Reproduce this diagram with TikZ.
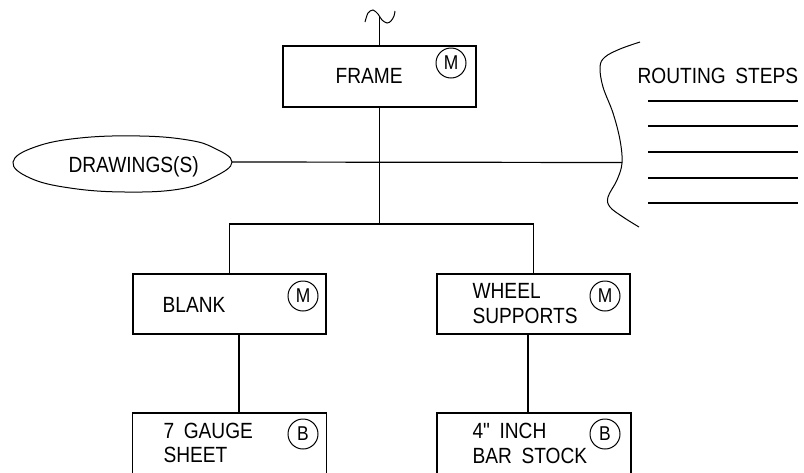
\documentclass[tikz,border=0pt]{standalone}
\usepackage{fontspec}
\newfontfamily\cad[FakeStretch=0.87,WordSpace=1.8]{Liberation Sans}
\begin{document}
\begin{tikzpicture}[x=1pt,y=-1pt,line width=1.2pt,
  box/.style={draw,rectangle,minimum width=193pt,inner sep=0pt},
  lbl/.style={font=\cad\fontsize{22}{26}\selectfont,inner sep=0pt,anchor=base west},
  badge/.style={draw,circle,minimum size=30pt,inner sep=0pt,line width=1pt,font=\cad\fontsize{20}{24}\selectfont},
  wavy/.style={line width=1pt}]
\useasboundingbox (0,0) rectangle (804,472);
\clip (0,0) rectangle (804,472);

% boxes
\node[box,minimum height=61pt] (frame) at (379.5,76.5) {};
\node[box,minimum height=60pt] (blank) at (229.5,304) {};
\node[box,minimum height=60pt] (wheel) at (533.5,304) {};
\node[box,minimum height=80pt,minimum width=194pt] (sheet) at (229.5,453) {};
\node[box,minimum height=80pt,minimum width=194pt] (bar) at (534,453) {};

% labels
\node[lbl] (framelbl) at (335,83) {FRAME};
\node[lbl] (blanklbl) at (162,312) {BLANK};
\node[lbl] (wheellbl1) at (472,298) {WHEEL};
\node[lbl] (wheellbl2) at (472,323) {SUPPORTS};
\node[lbl] (sheetlbl1) at (163,438) {7 GAUGE};
\node[lbl] (sheetlbl2) at (163,462) {SHEET};
\node[lbl] (barlbl1) at (472,438) {4" INCH};
\node[lbl] (barlbl2) at (472,463) {BAR STOCK};
\node[lbl] (routlbl) at (637,83) {ROUTING STEPS};
\node[lbl] (drwlbl) at (68,172) {DRAWINGS(S)};

% badges
\node[badge] (fm) at (451,63) {M};
\node[badge] (bm) at (303,296) {M};
\node[badge] (wm) at (605,296) {M};
\node[badge] (sb) at (303,434) {B};
\node[badge] (bb) at (605,434) {B};

% drawings ellipse
\draw[wavy] plot[smooth cycle,tension=0.7] coordinates {(232,162) (214,148) (188,140) (140,136) (80,138) (35,147) (13,162) (30,178) (70,188) (125,192) (180,189) (214,177)};
\coordinate (drwtip) at (232,162);

% routing bracket
\draw[wavy] plot[smooth,tension=0.6] coordinates {(640,42) (620,49) (605,57) (600,67) (603,87) (613,113) (620,140) (622,163) (617,180) (608,197) (610,207) (623,217) (639,227)};
\coordinate (rtjoin) at (622,162.5);
\foreach \yy in {101,126,152,178,203} \draw (648,\yy) -- (798,\yy);

% top wave
\draw[wavy] plot[smooth] coordinates {(365,22) (368,13) (373,10) (378,14) (382,20) (387,23) (391,21) (394,16) (395,11)};
\coordinate (wv) at (379.5,16);
\draw (wv) -- (frame.north);

% connectors
\draw (drwtip) -- (rtjoin);
\coordinate (br) at (379.5,224);
\draw (frame.south) -- (br);
\draw (blank.north) |- (br) -| (wheel.north);
\draw ([xshift=9.5pt]blank.south) -- ([xshift=9.5pt]blank.south |- sheet.north);
\draw ([xshift=-5.5pt]wheel.south) -- ([xshift=-5.5pt]wheel.south |- bar.north);
\end{tikzpicture}
\end{document}
